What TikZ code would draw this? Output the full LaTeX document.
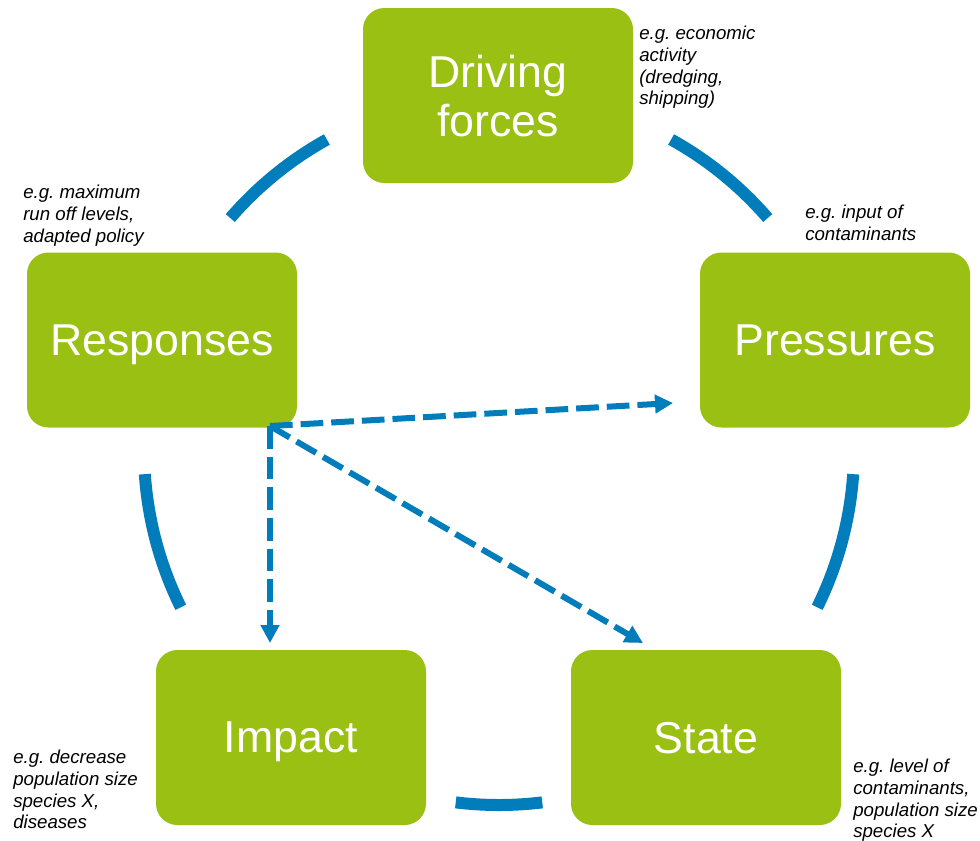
\documentclass[tikz,border=0pt]{standalone}
\usepackage{fontspec}
\setmainfont{Liberation Sans}
\usetikzlibrary{arrows.meta}
\definecolor{boxgreen}{RGB}{153,192,18}
\definecolor{cycleblue}{RGB}{0,125,186}
\frenchspacing
\begin{document}
\begin{tikzpicture}[x=0.75pt,y=-0.75pt,
  box/.style={fill=boxgreen, rounded corners=16pt, minimum width=202.5pt, minimum height=131.25pt,
    inner sep=0pt, text=white, align=center, text depth=0pt, font=\fontsize{33.5}{36.5}\selectfont},
  note/.style={anchor=north west, inner sep=0pt, align=left, font=\fontsize{14}{16.4}\selectfont\itshape},
  cyc/.style={draw=cycleblue, line width=9pt},
  flow/.style={draw=cycleblue, line width=4.5pt, dash pattern=on 17pt off 6pt,
    -{Triangle[length=13.5pt,width=13.5pt]}}]
\useasboundingbox (0,0) rectangle (980,840);

% boxes
\node[box] (drive) at (498,95.5) {Driving\\forces};
\node[box] (resp)  at (162,340) {Responses};
\node[box] (press) at (835,340) {Pressures};
\node[box] (imp)   at (291,737.5) {Impact};
\node[box] (state) at (706,737.5) {State};

% notes
\node[note] (ndrive) at (639,23) {\rule{0pt}{12pt}e.g. economic\\activity\\(dredging,\\shipping)};
\node[note] (npress) at (805,202) {\rule{0pt}{12pt}e.g. input of\\contaminants};
\node[note] (nresp)  at (23,182) {\rule{0pt}{12pt}e.g. maximum\\run off levels,\\adapted policy};
\node[note] (nimp)   at (13,747) {\rule{0pt}{12pt}e.g. decrease\\population size\\species X,\\diseases};
\node[note] (nstate) at (853,756) {\rule{0pt}{12pt}e.g. level of\\contaminants,\\population size\\species X};

% cycle arcs
\coordinate (c) at (499,450);
\draw[cyc] ([shift={(220.8:355)}]c) arc[start angle=220.8, end angle=241, radius=355];
\draw[cyc] ([shift={(299:355)}]c) arc[start angle=299, end angle=319.2, radius=355];
\draw[cyc] ([shift={(3.9:355)}]c) arc[start angle=3.9, end angle=26.3, radius=355];
\draw[cyc] ([shift={(153.7:355)}]c) arc[start angle=153.7, end angle=176.1, radius=355];
\draw[cyc] ([shift={(83:355)}]c) arc[start angle=83, end angle=97, radius=355];

% dashed arrows
\coordinate (r0) at (270,426);
\coordinate (pin) at (673,403);
\coordinate (iin) at (270,643);
\coordinate (sin) at (643,643);
\draw[flow] (r0) -- (pin);
\draw[flow] (r0) -- (iin);
\draw[flow] (r0) -- (sin);
\end{tikzpicture}
\end{document}
